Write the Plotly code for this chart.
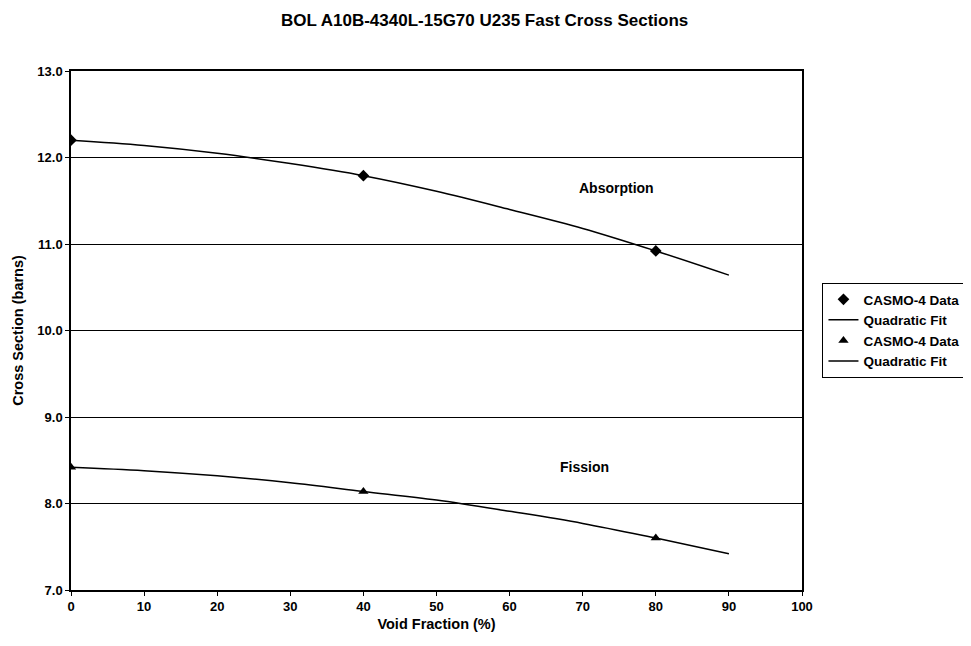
import plotly.graph_objects as go

# Data
data_x = [0, 40, 80]
absorption_data = [12.20, 11.79, 10.92]
fission_data = [8.42, 8.14, 7.60]

fit_x = [0, 10, 20, 30, 40, 50, 60, 70, 80, 90]
absorption_fit = [12.20, 12.14, 12.05, 11.93, 11.79, 11.61, 11.40, 11.18, 10.92, 10.64]
fission_fit = [8.42, 8.38, 8.32, 8.24, 8.14, 8.04, 7.91, 7.77, 7.60, 7.42]

x_ticks = [0, 10, 20, 30, 40, 50, 60, 70, 80, 90, 100]
y_ticks = [7.0, 8.0, 9.0, 10.0, 11.0, 12.0, 13.0]

FONT = "Liberation Sans, Arial, sans-serif"

fig = go.Figure()
fig.add_trace(go.Scatter(x=data_x, y=absorption_data, mode="markers", name="CASMO-4 Data",
                         marker=dict(symbol="diamond", size=9, color="black")))
fig.add_trace(go.Scatter(x=fit_x, y=absorption_fit, mode="lines", name="Quadratic Fit",
                         line=dict(color="black", width=1.5, shape="spline")))
fig.add_trace(go.Scatter(x=data_x, y=fission_data, mode="markers", name="CASMO-4 Data",
                         marker=dict(symbol="triangle-up", size=9, color="black")))
fig.add_trace(go.Scatter(x=fit_x, y=fission_fit, mode="lines", name="Quadratic Fit",
                         line=dict(color="black", width=1.5, shape="spline")))

fig.add_annotation(x=74.6, y=11.65, text="<b>Absorption</b>", showarrow=False,
                   font=dict(family=FONT, size=14, color="black"))
fig.add_annotation(x=70.3, y=8.42, text="<b>Fission</b>", showarrow=False,
                   font=dict(family=FONT, size=14, color="black"))

fig.update_layout(
    width=963, height=638,
    paper_bgcolor="white", plot_bgcolor="white",
    margin=dict(l=63, r=169, t=63, b=56, autoexpand=False),
    font=dict(family=FONT, size=13, color="black"),
    title=dict(text="<b>BOL A10B-4340L-15G70 U235 Fast Cross Sections</b>",
               x=0.495, xanchor="center", y=0.981, yanchor="middle",
               font=dict(family=FONT, size=17, color="black")),
    showlegend=True,
    legend=dict(x=1.028, xanchor="left", y=0.5915, yanchor="top",
                bordercolor="black", borderwidth=1, bgcolor="white",
                font=dict(family=FONT, size=13.5, color="black", weight="bold"),
                tracegroupgap=0, itemwidth=30),
    xaxis=dict(range=[0, 100], tickvals=x_ticks, ticktext=[f"<b>{v}</b>" for v in x_ticks],
               showgrid=False, zeroline=False, showline=True, linecolor="black", linewidth=1.5,
               mirror=True, ticks="outside", ticklen=4, tickcolor="black",
               tickfont=dict(family=FONT, size=13),
               title=dict(text="<b>Void Fraction (%)</b>", standoff=6,
                          font=dict(family=FONT, size=14.5))),
    yaxis=dict(range=[7.0, 13.0], tickvals=y_ticks, ticktext=[f"<b>{v:.1f}</b>" for v in y_ticks],
               showgrid=True, gridcolor="black", gridwidth=1, zeroline=False,
               showline=True, linecolor="black", linewidth=1.5, mirror=True,
               ticks="outside", ticklen=4, tickcolor="black",
               tickfont=dict(family=FONT, size=13),
               title=dict(text="<b>Cross Section (barns)</b>", standoff=10,
                          font=dict(family=FONT, size=14.5))),
)

fig.write_html("out.html")
